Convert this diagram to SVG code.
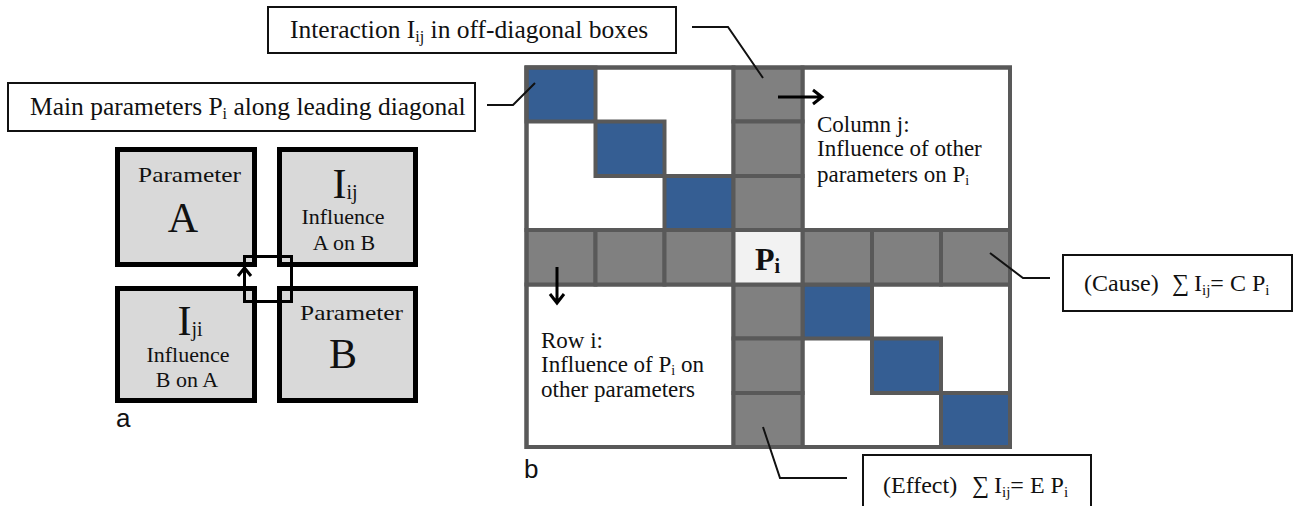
<svg xmlns="http://www.w3.org/2000/svg" width="1298" height="506" viewBox="0 0 1298 506">
<defs>
<style>
.t{font-family:'Liberation Serif','DejaVu Serif','Noto Serif',serif;fill:#111}
.lbl{font-family:'Liberation Sans',Arial,sans-serif;font-size:26px;fill:#111}
.abox{fill:#d9d9d9;stroke:#000;stroke-width:5}
.cbox{fill:#fff;stroke:#111;stroke-width:2}
.blue{fill:#355e93;stroke:#595959;stroke-width:4}
.gray{fill:#808080;stroke:#595959;stroke-width:4}
.white{fill:#fff;stroke:#595959;stroke-width:4}
.conn{fill:none;stroke:#111;stroke-width:2}
.arr{fill:none;stroke:#000;stroke-width:3}
</style>
</defs>
<rect width="1298" height="506" fill="#fff"/>

<!-- Panel a -->
<g id="boxA">
<rect class="abox" x="117.5" y="149.5" width="137" height="115"/>
<text class="t" x="138" y="182" font-size="21" textLength="103" lengthAdjust="spacingAndGlyphs">Parameter</text>
<text class="t" x="183" y="232" font-size="42" text-anchor="middle">A</text>
</g>
<g id="boxIij">
<rect class="abox" x="279.5" y="149.5" width="136" height="115"/>
<text class="t" x="345" y="198" font-size="42" text-anchor="middle">I<tspan font-size="20" dy="1">ij</tspan></text>
<text class="t" x="343" y="224" font-size="22" text-anchor="middle">Influence</text>
<text class="t" x="344" y="250" font-size="22" text-anchor="middle">A on B</text>
</g>
<g id="boxIji">
<rect class="abox" x="117.5" y="288.5" width="137" height="112"/>
<text class="t" x="190" y="335" font-size="42" text-anchor="middle">I<tspan font-size="20" dy="1">ji</tspan></text>
<text class="t" x="188" y="362" font-size="22" text-anchor="middle">Influence</text>
<text class="t" x="187" y="387" font-size="22" text-anchor="middle">B on A</text>
</g>
<g id="boxB">
<rect class="abox" x="279.5" y="288.5" width="136" height="112"/>
<text class="t" x="300" y="320" font-size="21" textLength="103" lengthAdjust="spacingAndGlyphs">Parameter</text>
<text class="t" x="343" y="368" font-size="42" text-anchor="middle">B</text>
</g>
<g id="crossing">
<rect x="244.5" y="256.5" width="47" height="45" fill="none" stroke="#000" stroke-width="3"/>
<path class="arr" d="M238,276 L244.5,268 L251,276"/>
</g>
<text class="lbl" x="116" y="427">a</text>

<!-- Panel b grid -->
<g id="matrix">
<rect class="white" x="526.5" y="67.5" width="207" height="162.5"/>
<rect class="white" x="802.5" y="67.5" width="207.5" height="162.5"/>
<rect class="white" x="526.5" y="284.5" width="207" height="162.5"/>
<rect class="white" x="802.5" y="284.5" width="207.5" height="162.5"/>
<rect class="blue" x="526.5" y="67.5" width="69" height="54"/>
<rect class="blue" x="595.5" y="121.5" width="69" height="54.5"/>
<rect class="blue" x="664.5" y="176" width="69" height="54"/>
<rect class="blue" x="802.5" y="284.5" width="69.5" height="54"/>
<rect class="blue" x="872" y="338.5" width="69" height="54.5"/>
<rect class="blue" x="941" y="393" width="69" height="54"/>
<rect class="gray" x="733.5" y="67.5" width="69" height="54"/>
<rect class="gray" x="733.5" y="121.5" width="69" height="54.5"/>
<rect class="gray" x="733.5" y="176" width="69" height="54"/>
<rect class="gray" x="733.5" y="284.5" width="69" height="54"/>
<rect class="gray" x="733.5" y="338.5" width="69" height="54.5"/>
<rect class="gray" x="733.5" y="393" width="69" height="54"/>
<rect class="gray" x="526.5" y="230" width="69" height="54.5"/>
<rect class="gray" x="595.5" y="230" width="69" height="54.5"/>
<rect class="gray" x="664.5" y="230" width="69" height="54.5"/>
<rect class="gray" x="802.5" y="230" width="69.5" height="54.5"/>
<rect class="gray" x="872" y="230" width="69" height="54.5"/>
<rect class="gray" x="941" y="230" width="69" height="54.5"/>
<rect x="733.5" y="230" width="69" height="54.5" fill="#f2f2f2" stroke="#595959" stroke-width="4"/>
<rect x="526.5" y="67.5" width="483.5" height="379.5" fill="none" stroke="#595959" stroke-width="4"/>
</g>
<g id="pi">
<text class="t" x="755" y="270" font-size="32" font-weight="bold">P<tspan font-size="20" dy="3">i</tspan></text>
</g>
<g id="columnText">
<text class="t" x="817" y="132" font-size="23">Column j:</text>
<text class="t" x="817" y="156" font-size="23">Influence of other</text>
<text class="t" x="817" y="182" font-size="23">parameters on P<tspan font-size="14" dy="3">i</tspan></text>
</g>
<g id="rowText">
<text class="t" x="541" y="348" font-size="23">Row i:</text>
<text class="t" x="541" y="372" font-size="23">Influence of P<tspan font-size="14" dy="3">i</tspan><tspan dy="-3"> on</tspan></text>
<text class="t" x="541" y="397" font-size="23">other parameters</text>
</g>
<g id="arrows">
<path class="arr" d="M778,97 L821,97 M813,90 L822,97 L813,104"/>
<path class="arr" d="M557,267 L557,302 M550,294 L557,303 L564,294"/>
</g>
<text class="lbl" x="524" y="478">b</text>

<!-- Callout boxes -->
<g id="mainBox">
<rect class="cbox" x="8" y="83" width="467" height="48"/>
<text class="t" x="30" y="115" font-size="25.5">Main parameters P<tspan font-size="16" dy="4">i</tspan><tspan dy="-4"> along leading diagonal</tspan></text>
</g>
<g id="interactionBox">
<rect class="cbox" x="268" y="7" width="408" height="46"/>
<text class="t" x="290" y="38" font-size="25.5">Interaction I<tspan font-size="16" dy="4">ij</tspan><tspan dy="-4"> in off-diagonal boxes</tspan></text>
</g>
<g id="causeBox">
<rect class="cbox" x="1063" y="255" width="229" height="56"/>
<text class="t" y="291" font-size="24"><tspan x="1084">(Cause)</tspan><tspan x="1172">∑</tspan><tspan x="1194">I</tspan><tspan font-size="15" dy="4">ij</tspan><tspan dy="-4">= C P</tspan><tspan font-size="15" dy="4">i</tspan></text>
</g>
<g id="effectBox">
<rect class="cbox" x="863" y="455" width="228" height="60"/>
<text class="t" y="493" font-size="24"><tspan x="883">(Effect)</tspan><tspan x="972">∑</tspan><tspan x="994">I</tspan><tspan font-size="15" dy="4">ij</tspan><tspan dy="-4">= E P</tspan><tspan font-size="15" dy="4">i</tspan></text>
</g>

<g id="connectors">
<polyline class="conn" points="487,105 513,105 535,83"/>
<polyline class="conn" points="692,27 728,27 763,78"/>
<polyline class="conn" points="990,253 1023,278 1050,278"/>
<polyline class="conn" points="763,427 780,478 847,478"/>
</g>
</svg>
